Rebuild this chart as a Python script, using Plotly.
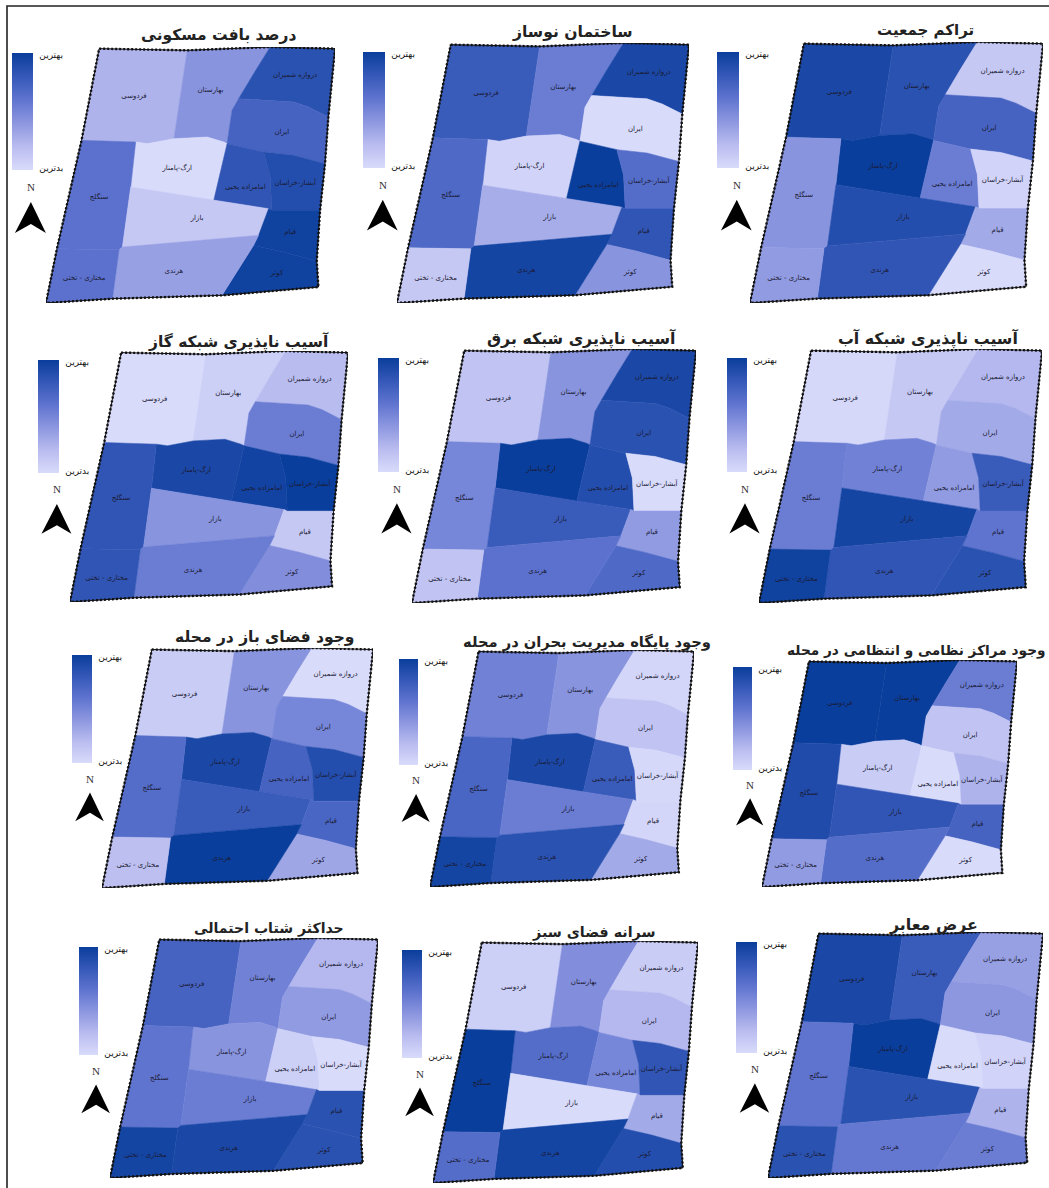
import plotly.graph_objects as go
from plotly.colors import sample_colorscale

W, H = 1049, 1188

NAMES = ["فردوسی", "بهارستان", "دروازه شمیران", "ایران", "ارگ-پامنار", "امامزاده یحیی", "آبشار-خراسان",
         "سنگلج", "بازار", "قیام", "کوثر", "هرندی", "مختاری - تختی"]

FERDOWSI = [(295,145),(560,150),(545,250),(520,415),(440,430),(405,425),(242,420)]
BAHARESTAN = [(560,150),(810,140),(760,220),(715,295),(695,330),(680,430),(670,425),(620,410),(520,415),(545,250)]
DARVAZE = [(810,140),(1005,145),(985,350),(925,320),(880,305),(715,295),(760,220)]
IRAN = [(715,295),(880,305),(925,320),(985,350),(975,490),(880,465),(790,455),(680,430),(695,330)]
ARG = [(405,425),(440,430),(520,415),(620,410),(670,425),(680,430),(640,600),(390,560)]
EMAMZADEH = [(680,430),(790,455),(810,530),(815,630),(805,625),(640,600)]
ABSHAR = [(790,455),(880,465),(975,490),(960,630),(815,630),(810,530)]
SANGLAJ = [(242,420),(405,425),(390,560),(365,740),(355,748),(168,745),(224,500)]
BAZAR = [(390,560),(640,600),(805,625),(775,705),(365,740)]
QIYAM = [(815,630),(960,630),(950,782),(850,755),(760,735),(775,705),(805,625)]
KOWSAR = [(760,735),(850,755),(950,782),(955,860),(665,885)]
HARANDI = [(365,740),(775,705),(760,735),(665,885),(335,895),(355,748)]
MOKHTARI = [(168,745),(355,748),(335,895),(135,908)]
POLYGONS = [FERDOWSI, BAHARESTAN, DARVAZE, IRAN, ARG, EMAMZADEH, ABSHAR, SANGLAJ, BAZAR, QIYAM, KOWSAR, HARANDI, MOKHTARI]
LABEL_POINTS = [(400,288),(630,270),(885,225),(845,395),(530,505),(735,560),(885,548),(295,590),(590,655),(870,695),(830,818),(520,812),(250,835)]
OUTLINE = [(295,145),(560,150),(810,140),(1005,145),(985,350),(975,490),(960,630),(950,782),(955,860),(665,885),(335,895),(135,908),(168,745),(224,500),(242,420),(295,145)]

COLORSCALE = [[0,"#d9dbfb"],[0.2,"#b9bcef"],[0.4,"#8d97e0"],[0.6,"#5f74cf"],[0.8,"#3558b8"],[1,"#0a3e9c"]]

TITLES = ["درصد بافت مسکونی","ساختمان نوساز","تراکم جمعیت",
          "آسیب ناپذیری شبکه گاز","آسیب ناپذیری شبکه برق","آسیب ناپذیری شبکه آب",
          "وجود فضای باز در محله","وجود پایگاه مدیریت بحران در محله","وجود مراکز نظامی و انتظامی در محله",
          "حداکثر شتاب احتمالی","سرانه فضای سبز","عرض معابر"]
TITLE_SIZES = [15.5,15.6,15,15.5,15.8,15.8,15.5,14.7,13.7,14.1,14.3,15.8]

V1 = [.25,.42,.85,.72,.0,.82,.88,.62,.12,.97,.97,.35,.62]
V2 = [.78,.55,.92,.0,.05,1,.65,.68,.28,.82,.42,.95,.12]
V3 = [.92,.85,.12,.72,1,.55,.05,.42,.88,.3,.0,.82,.38]
V4 = [.0,.08,.2,.55,.92,.96,1,.82,.42,.12,.45,.55,.82]
V5 = [.15,.42,.92,.85,1,.88,.0,.5,.78,.38,.68,.62,.15]
V6 = [.02,.12,.22,.3,.52,.38,.78,.55,.95,.6,.85,.82,.97]
V7 = [.1,.42,.0,.5,.92,.72,.88,.65,.78,.7,.32,1,.18]
V8 = [.52,.42,.03,.15,.92,.78,.02,.7,.55,.03,.3,.85,.95]
V9 = [1,1,.55,.15,.1,.0,.25,.9,.82,.72,.0,.65,.38]
V10 = [.72,.52,.22,.38,.42,.08,.0,.6,.55,.85,.85,.92,.95]
V11 = [.08,.45,.1,.22,.65,.5,.82,1,.0,.3,.88,.95,.65]
V12 = [.92,.78,.35,.4,1,.0,.05,.6,.85,.25,.55,.58,.85]
VALUES = [V1,V2,V3,V4,V5,V6,V7,V8,V9,V10,V11,V12]

# panel frames in page pixels: map left, right, top, bottom; legend left, right, top, bottom; title centre
MAPS = [(46,335,47,303),(397,689,43,303),(750,1043,42,303),
        (70,348,351,602),(412,696,349,603),(759,1042,349,603),
        (102,373,648,888),(430,694,650,887),(762,1017,660,887),
        (110,378,938,1178),(433,698,941,1183),(768,1043,932,1178)]
BARS = [(12,33,53,170),(363,385,52,168),(717,739,52,168),
        (38,59,360,473),(378,399,358,472),(727,747,358,472),
        (72,92,655,763),(399,418,659,765),(733,752,667,770),
        (79,98,947,1055),(402,422,950,1058),(736,757,942,1053)]
TITLE_POS = [(218,35),(572,32),(925,30),(238,342),(581,338),(928,338),
             (264,637),(587,642),(916,650),(269,928),(594,932),(933,924)]

px = lambda v: v / W
py = lambda v: 1 - v / H

fig = go.Figure()
layout = dict(width=W, height=H, margin=dict(l=0, r=0, t=0, b=0), paper_bgcolor="white",
              plot_bgcolor="rgba(0,0,0,0)", showlegend=False, font=dict(family="DejaVu Sans", color="black"))
shapes, annotations = [], []
frame = "M {} {} L {} {} L {} {}".format(px(7), 0, px(7), py(6), 1, py(6))
shapes.append(dict(type="path", xref="paper", yref="paper", path=frame, line=dict(color="#222", width=1.6)))

for i in range(12):
    s = "" if i == 0 else str(i + 1)
    l, r, t, b = MAPS[i]
    layout["xaxis" + s] = dict(domain=[px(l), px(r)], range=[135, 1005], visible=False, anchor="y" + s, fixedrange=True)
    layout["yaxis" + s] = dict(domain=[py(b), py(t)], range=[908, 140], visible=False, anchor="x" + s, fixedrange=True)
    colors = sample_colorscale(COLORSCALE, VALUES[i])
    for poly, col in zip(POLYGONS, colors):
        fig.add_trace(go.Scatter(x=[p[0] for p in poly] + [poly[0][0]], y=[p[1] for p in poly] + [poly[0][1]],
                                 xaxis="x" + s, yaxis="y" + s, mode="lines", fill="toself", fillcolor=col,
                                 line=dict(color=col, width=0.5), hoverinfo="skip", cliponaxis=False))
    fig.add_trace(go.Scatter(x=[p[0] for p in OUTLINE], y=[p[1] for p in OUTLINE], xaxis="x" + s, yaxis="y" + s,
                             mode="lines", line=dict(color="#111", width=1), hoverinfo="skip", cliponaxis=False))
    fig.add_trace(go.Scatter(x=[p[0] for p in OUTLINE], y=[p[1] for p in OUTLINE], xaxis="x" + s, yaxis="y" + s,
                             mode="lines", line=dict(color="#111", width=2.4, dash="2px,2px"), hoverinfo="skip", cliponaxis=False))
    fig.add_trace(go.Scatter(x=[p[0] for p in LABEL_POINTS], y=[p[1] for p in LABEL_POINTS], xaxis="x" + s, yaxis="y" + s,
                             mode="text", text=NAMES, textposition="middle center",
                             textfont=dict(size=7, color="#1a1a33", family="DejaVu Sans"), hoverinfo="skip", cliponaxis=False))
    # legend colour bar
    bl, br, bt, bb = BARS[i]
    fig.add_trace(go.Scatter(x=[None], y=[None], xaxis="x" + s, yaxis="y" + s, mode="markers",
                             marker=dict(color=[0.5], cmin=0, cmax=1, colorscale=COLORSCALE, showscale=True,
                                         colorbar=dict(x=px(bl), xanchor="left", y=py(bt), yanchor="top",
                                                       lenmode="pixels", len=bb - bt, thicknessmode="pixels",
                                                       thickness=br - bl, xpad=0, ypad=0, outlinewidth=0,
                                                       tickvals=[0.98, 0.02], ticktext=["بهترین", "بدترین"],
                                                       ticks="outside", ticklen=5, tickcolor="rgba(0,0,0,0)",
                                                       tickfont=dict(size=9, color="#111", family="DejaVu Sans")))))
    # north arrow, sized with the legend bar
    k = (bb - bt) / 117
    cx = bl + 0.9 * (br - bl)
    annotations.append(dict(text="N", xref="paper", yref="paper", x=px(cx), y=py(bt + 134 * k), xanchor="center",
                            yanchor="middle", showarrow=False, font=dict(size=11, family="Liberation Serif", color="#333")))
    path = "M {} {} L {} {} L {} {} L {} {} Z".format(px(cx), py(bt + 149 * k), px(cx - 16 * k), py(bt + 180 * k),
                                                      px(cx), py(bt + 171 * k), px(cx + 15 * k), py(bt + 180 * k))
    shapes.append(dict(type="path", xref="paper", yref="paper", path=path, fillcolor="black", line=dict(width=0)))
    tx, ty = TITLE_POS[i]
    annotations.append(dict(text="<b>" + TITLES[i] + "</b>", xref="paper", yref="paper", x=px(tx), y=py(ty),
                            xanchor="center", yanchor="middle", showarrow=False,
                            font=dict(size=TITLE_SIZES[i], family="DejaVu Sans", color="#222")))

layout["shapes"] = shapes
layout["annotations"] = annotations
fig.update_layout(**layout)
fig.write_html("out.html", config={"displayModeBar": False}, post_script="document.body.style.margin='0';")
